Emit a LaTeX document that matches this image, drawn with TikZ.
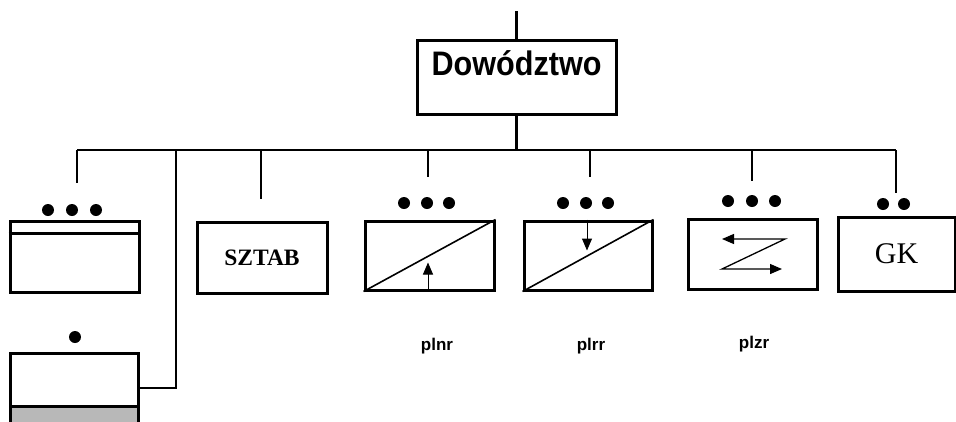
\documentclass[tikz,border=0pt]{standalone}
\usepackage{fontspec}
\setmainfont{Liberation Serif}
\newfontfamily\arialf{Liberation Sans}
\newfontfamily\arialn[FakeStretch=0.9]{Liberation Sans}
\usetikzlibrary{arrows.meta}
\begin{document}
\begin{tikzpicture}[x=1pt,y=-1pt,
  box/.style={draw,line width=3pt,inner sep=0pt},
  conn/.style={line width=2.2pt},
  dot/.style={fill=black,circle,inner sep=0pt,minimum size=12pt},
  diag/.style={line width=1.6pt},
  inarrow/.style={line width=1pt,-{Triangle[length=12pt,width=10pt]}},
  lab/.style={font=\arialf\bfseries\fontsize{17}{17}\selectfont,anchor=base}]
\useasboundingbox[fill=white] (0,0) rectangle (956,421);

% top command box
\node[box,minimum width=199pt,minimum height=74pt] (dow) at (516.5,77) {};
\node[font=\arialn\bfseries\fontsize{34}{34}\selectfont,anchor=base] (dowt) at (516.5,75) {Dowództwo};
\coordinate (top) at (516.5,11);
\draw[conn] (top) -- (dow.north);
\coordinate (j0) at (516.5,150);
\draw[conn] (dow.south) -- (j0);

% horizontal bar
\coordinate (bl) at (77,150);
\coordinate (br) at (896,150);
\draw[conn] (bl) -- (br);

% box 1 (left, top)
\node[box,minimum width=129pt,minimum height=71pt] (b1) at (74.5,256.5) {};
\draw[box] ([yshift=-14pt]b1.north west) -- ([yshift=-14pt]b1.north east);
\node[dot] (b1d1) at (48,210) {};
\node[dot] (b1d2) at (72,210) {};
\node[dot] (b1d3) at (96,210) {};
\coordinate (e1) at (77,183);
\draw[conn] (bl) -- (e1);

% box 2 (left, bottom)
\fill[black!28] (10,406) rectangle (138,423);
\node[box,minimum width=128pt,minimum height=70pt] (b2) at (74,388) {};
\draw[box] (10,406) -- (138,406);
\node[dot] (b2d) at (75,337) {};
\coordinate (k2) at (176,150);
\draw[conn] (k2) |- (b2.east);

% SZTAB
\node[box,minimum width=130pt,minimum height=71pt,font=\bfseries\fontsize{23.5}{23.5}\selectfont] (sztab) at (262,257.5) {SZTAB};
\coordinate (k3) at (261,150);
\coordinate (e3) at (261,199);
\draw[conn] (k3) -- (e3);

% plnr
\node[box,minimum width=129pt,minimum height=69pt] (plnr) at (429.5,255.5) {};
\draw[diag] (plnr.south west) -- (plnr.north east);
\draw[inarrow] ([xshift=-1.5pt]plnr.south) -- ++(0,-29);
\node[dot] (p1d1) at (404,203) {};
\node[dot] (p1d2) at (427,203) {};
\node[dot] (p1d3) at (449,203) {};
\coordinate (k4) at (428,150);
\coordinate (e4) at (428,177);
\draw[conn] (k4) -- (e4);
\node[lab] (plnrl) at (437,350.5) {plnr};

% plrr
\node[box,minimum width=128pt,minimum height=69pt] (plrr) at (588,255.5) {};
\draw[diag] (plrr.south west) -- (plrr.north east);
\draw[inarrow] ([xshift=-1pt]plrr.north) -- ++(0,31);
\node[dot] (p2d1) at (563,203) {};
\node[dot] (p2d2) at (586,203) {};
\node[dot] (p2d3) at (608,203) {};
\coordinate (k5) at (590,150);
\coordinate (e5) at (590,177);
\draw[conn] (k5) -- (e5);
\node[lab] (plrrl) at (591,350.5) {plrr};

% plzr
\node[box,minimum width=129pt,minimum height=70pt] (plzr) at (752.5,254) {};
\draw[line width=1.3pt,{Triangle[length=12pt,width=10pt]}-{Triangle[length=12pt,width=10pt]}]
  ([shift={(-30.5,-15)}]plzr.center) -- ([shift={(32.5,-15)}]plzr.center)
  -- ([shift={(-30.5,15)}]plzr.center) -- ([shift={(29.5,15)}]plzr.center);
\node[dot] (p3d1) at (728,201) {};
\node[dot] (p3d2) at (752,201) {};
\node[dot] (p3d3) at (775,201) {};
\coordinate (k6) at (752,150);
\coordinate (e6) at (752,181);
\draw[conn] (k6) -- (e6);
\node[lab] (plzrl) at (754,348) {plzr};

% GK
\node[box,minimum width=117pt,minimum height=74pt,font=\fontsize{30}{30}\selectfont] (gk) at (896.5,254) {GK};
\node[dot] (gkd1) at (883,204) {};
\node[dot] (gkd2) at (904,204) {};
\coordinate (e7) at (896,193);
\draw[conn] (br) -- (e7);
\end{tikzpicture}
\end{document}
